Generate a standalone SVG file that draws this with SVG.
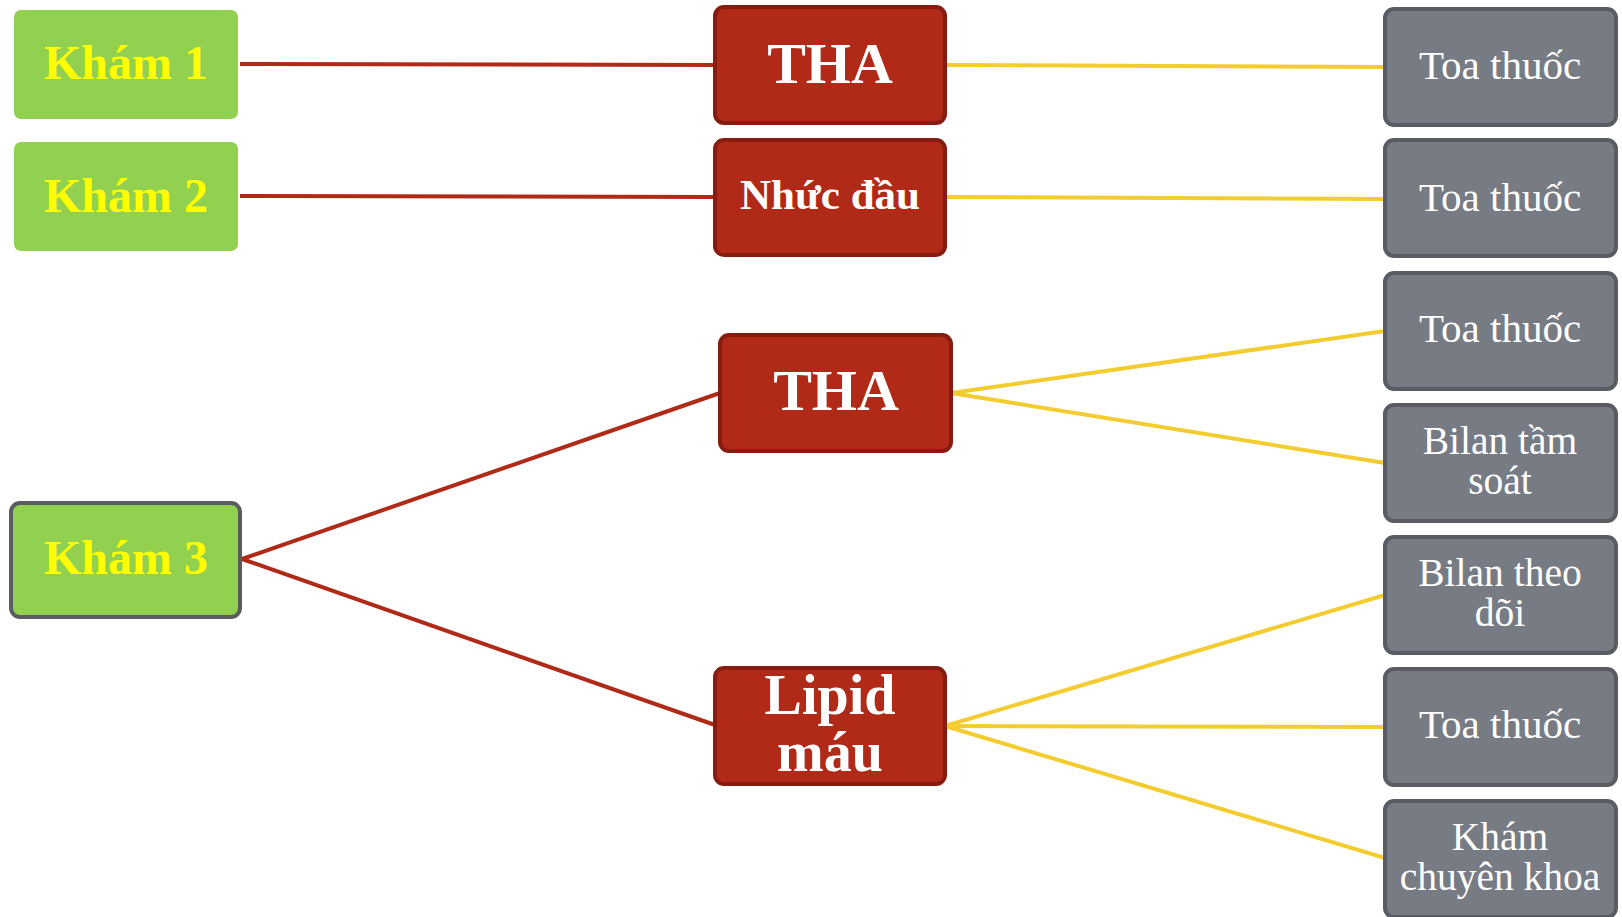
<svg xmlns="http://www.w3.org/2000/svg" width="1622" height="917" viewBox="0 0 1622 917">
<style>
.red-ln{stroke:#B02A18;stroke-width:4;fill:none}
.yel-ln{stroke:#F3CC30;stroke-width:4;fill:none}
.green{fill:#92D050}
.green3{fill:#92D050;stroke:#595C63;stroke-width:4}
.red{fill:#B02A17;stroke:#861C10;stroke-width:4}
.gray{fill:#777B84;stroke:#595C63;stroke-width:4}
.tg{font-family:"Liberation Serif",serif;font-weight:bold;font-size:48px;fill:#FFFF00;text-anchor:middle}
.tr{font-family:"Liberation Serif",serif;font-weight:bold;fill:#FFFFFF;text-anchor:middle}
.tw{font-family:"Liberation Serif",serif;font-size:41px;fill:#FFFFFF;text-anchor:middle}
.tw2{font-family:"Liberation Serif",serif;font-size:39.5px;fill:#FFFFFF;text-anchor:middle}
</style>
<rect width="1622" height="917" fill="#FFFFFF"/>
<g id="connectors">
<line class="red-ln" x1="240" y1="64" x2="715" y2="65"/>
<line class="red-ln" x1="240" y1="196" x2="715" y2="197"/>
<line class="red-ln" x1="242" y1="559" x2="720" y2="393"/>
<line class="red-ln" x1="242" y1="559" x2="715" y2="725"/>
<line class="yel-ln" x1="945" y1="65" x2="1385" y2="67"/>
<line class="yel-ln" x1="945" y1="197" x2="1385" y2="199"/>
<line class="yel-ln" x1="951" y1="393" x2="1385" y2="331"/>
<line class="yel-ln" x1="951" y1="393" x2="1385" y2="463"/>
<line class="yel-ln" x1="945" y1="726" x2="1385" y2="595"/>
<line class="yel-ln" x1="945" y1="726" x2="1385" y2="727"/>
<line class="yel-ln" x1="945" y1="726" x2="1385" y2="858"/>
</g>
<g id="kham1"><rect class="green" x="14" y="10" width="224" height="109" rx="7"/><text class="tg" x="126" y="79">Khám 1</text></g>
<g id="kham2"><rect class="green" x="14" y="142" width="224" height="109" rx="7"/><text class="tg" x="126" y="212">Khám 2</text></g>
<g id="kham3"><rect class="green3" x="11" y="503" width="229" height="114" rx="9"/><text class="tg" x="126" y="574">Khám 3</text></g>
<g id="tha1"><rect class="red" x="715" y="7" width="230" height="116" rx="9"/><text class="tr" x="830" y="83" font-size="58">THA</text></g>
<g id="nhucdau"><rect class="red" x="715" y="140" width="230" height="115" rx="9"/><text class="tr" x="830" y="209" font-size="43">Nhức đầu</text></g>
<g id="tha2"><rect class="red" x="720" y="335" width="231" height="116" rx="9"/><text class="tr" x="836" y="410" font-size="58">THA</text></g>
<g id="lipid"><rect class="red" x="715" y="668" width="230" height="116" rx="9"/><text class="tr" font-size="56"><tspan x="830" y="714">Lipid</tspan><tspan x="830" y="771">máu</tspan></text></g>
<g id="toa1"><rect class="gray" x="1385" y="9" width="231" height="116" rx="9"/><text class="tw" x="1500" y="79">Toa thuốc</text></g>
<g id="toa2"><rect class="gray" x="1385" y="140" width="231" height="116" rx="9"/><text class="tw" x="1500" y="211">Toa thuốc</text></g>
<g id="toa3"><rect class="gray" x="1385" y="273" width="231" height="116" rx="9"/><text class="tw" x="1500" y="342">Toa thuốc</text></g>
<g id="bilan-tam-soat"><rect class="gray" x="1385" y="405" width="231" height="116" rx="9"/><text class="tw2"><tspan x="1500" y="454">Bilan tầm</tspan><tspan x="1500" y="494">soát</tspan></text></g>
<g id="bilan-theo-doi"><rect class="gray" x="1385" y="537" width="231" height="116" rx="9"/><text class="tw2"><tspan x="1500" y="586">Bilan theo</tspan><tspan x="1500" y="626">dõi</tspan></text></g>
<g id="toa4"><rect class="gray" x="1385" y="669" width="231" height="116" rx="9"/><text class="tw" x="1500" y="738">Toa thuốc</text></g>
<g id="kham-ck"><rect class="gray" x="1385" y="801" width="231" height="116" rx="9"/><text class="tw2"><tspan x="1500" y="850">Khám</tspan><tspan x="1500" y="890">chuyên khoa</tspan></text></g>
</svg>
